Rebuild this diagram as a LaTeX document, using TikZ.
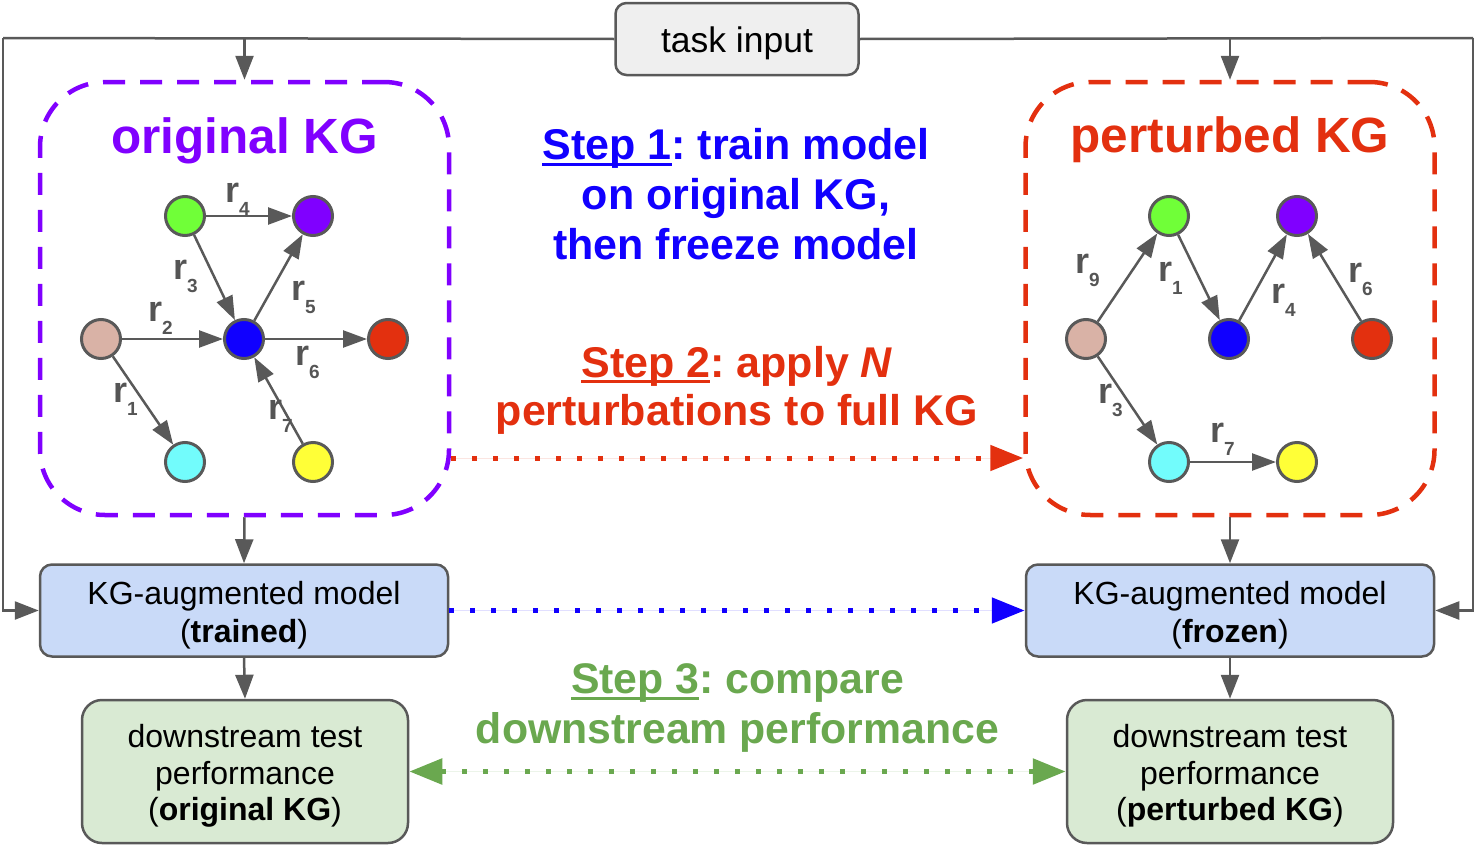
\documentclass[tikz,border=0pt]{standalone}
\usepackage{fontspec}
\setmainfont{Liberation Sans}
\usetikzlibrary{arrows.meta}
\definecolor{gline}{HTML}{595959}
\definecolor{glabel}{HTML}{555555}
\definecolor{kgpurple}{HTML}{8000FF}
\definecolor{kgred}{HTML}{E3300F}
\definecolor{stepblue}{HTML}{1100FF}
\definecolor{stepgreen}{HTML}{6AA84F}
\definecolor{bluefill}{HTML}{C9DAF8}
\definecolor{greenfill}{HTML}{D9EAD3}
\definecolor{taskfill}{HTML}{EFEFEF}
\definecolor{ngreen}{HTML}{70FF38}
\definecolor{npurple}{HTML}{8000FF}
\definecolor{ntan}{HTML}{D9B2A6}
\definecolor{nblue}{HTML}{1000FF}
\definecolor{nred}{HTML}{E3300F}
\definecolor{ncyan}{HTML}{72FCFC}
\definecolor{nyellow}{HTML}{FFFF37}
\frenchspacing
\newcommand\rsub[1]{r\raisebox{-13pt}{\fontsize{19}{19}\selectfont #1}}
\newcommand\stepul[1]{\setbox0\hbox{#1}\rlap{\rule[-6pt]{\wd0}{3pt}}\box0}
\begin{document}
\begin{tikzpicture}[x=1pt,y=-1pt,
  conn/.style={draw=gline, line width=2.5pt, -{Triangle[length=24pt,width=18pt]}},
  gedge/.style={draw=gline, line width=2.5pt, -{Triangle[length=24pt,width=17pt]}},
  kgbox/.style={rectangle, rounded corners=65pt, dash pattern=on 22pt off 15pt, line width=4.5pt, minimum width=409pt, minimum height=433pt},
  kgtitle/.style={anchor=base, inner sep=0pt, font=\fontsize{49.5}{49.5}\selectfont\bfseries},
  ent/.style={circle, draw=gline, line width=3pt, minimum size=39pt, inner sep=0pt},
  rel/.style={text=glabel, font=\fontsize{36}{36}\selectfont\bfseries, anchor=base west, inner sep=0pt},
  model/.style={rectangle, rounded corners=12pt, draw=gline, line width=2.5pt, fill=bluefill, minimum width=408pt, minimum height=92pt},
  perf/.style={rectangle, rounded corners=20pt, draw=gline, line width=2.5pt, fill=greenfill, minimum width=326pt, minimum height=143pt},
  boxtext/.style={align=center, inner sep=0pt, font=\fontsize{32}{37.5}\selectfont},
  steptext/.style={align=center, inner sep=0pt},
  dotarr/.style={line width=5pt, dash pattern=on 5pt off 16pt, -{Triangle[length=33pt,width=25pt]}}
]
\useasboundingbox (0,0) rectangle (1476,846);

% task input
\node[rectangle, rounded corners=11pt, draw=gline, line width=2.5pt, fill=taskfill, minimum width=243pt, minimum height=72pt, text height=33pt, text depth=7pt, font=\fontsize{35.5}{35.5}\selectfont] (ti) at (737,39) {task input};

% KG boxes
\node[kgbox, draw=kgpurple] (kgL) at (244.5,298.5) {};
\node[kgbox, draw=kgred] (kgR) at (1230,298.5) {};
\node[kgtitle, text=kgpurple] (tL) at (244.5,153) {original KG};
\node[kgtitle, text=kgred] (tR) at (1230,152) {perturbed KG};

% model boxes
\node[model] (mL) at (244,610.5) {};
\node[model] (mR) at (1230,610.5) {};
\node[boxtext] (mLt) at (244,615) {KG-augmented model\\(\textbf{trained})};
\node[boxtext] (mRt) at (1230,615) {KG-augmented model\\(\textbf{frozen})};

% performance boxes
\node[perf] (pL) at (245,771.5) {};
\node[perf] (pR) at (1230,771.5) {};
\node[boxtext, font=\fontsize{32}{36.5}\selectfont] (pLt) at (245,776) {downstream test\\performance\\(\textbf{original KG})};
\node[boxtext, font=\fontsize{32}{36.5}\selectfont] (pRt) at (1230,776) {downstream test\\performance\\(\textbf{perturbed KG})};

% top connectors
\coordinate (cl) at (3,38);
\coordinate (cr) at (1473,38);
\draw[draw=gline, line width=2.5pt] (ti.west) -- (cl);
\draw[draw=gline, line width=2.5pt] (ti.east) -- (cr);
\draw[conn] (cl) |- (mL.west);
\draw[conn] (cr) |- (mR.east);
\draw[conn] (kgL.north |- cl) -- (kgL.north);
\draw[conn] (kgR.north |- cr) -- (kgR.north);
\draw[conn] (kgL.south) -- (mL.north);
\draw[conn] (kgR.south) -- (mR.north);
\draw[conn] (mL.south) -- (pL.north);
\draw[conn] (mR.south) -- (pR.north);

% dotted arrows
\draw[dotarr, draw=kgred, fill=kgred] ([yshift=-159.5pt]kgL.east) -- ([yshift=-159.5pt]kgR.west);
\draw[dotarr, draw=stepblue, fill=stepblue] (mL.east) -- (mR.west);
\draw[line width=5.5pt, dash pattern=on 5.5pt off 15.5pt, {Triangle[length=33pt,width=25pt]}-{Triangle[length=33pt,width=25pt]}, draw=stepgreen, fill=stepgreen] (pL.east) -- (pR.west);

% step texts
\node[steptext, text=stepblue, font=\fontsize{43}{50}\selectfont\bfseries] (s1) at (736,194.5) {\stepul{Step 1}: train model\\on original KG,\\then freeze model};
\node[steptext, text=kgred, font=\fontsize{43}{48}\selectfont\bfseries] (s2) at (737,390) {\stepul{Step 2}: apply \textit{N}\\perturbations to full KG};
\node[steptext, text=stepgreen, font=\fontsize{42.8}{50}\selectfont\bfseries] (s3) at (737.5,708) {\stepul{Step 3}: compare\\downstream performance};

% left graph
\node[ent, fill=ngreen] (a1) at (185,216) {};
\node[ent, fill=npurple] (a2) at (313,216) {};
\node[ent, fill=ntan] (a3) at (101,339) {};
\node[ent, fill=nblue] (a4) at (244,339) {};
\node[ent, fill=nred] (a5) at (388,339) {};
\node[ent, fill=ncyan] (a6) at (185,462) {};
\node[ent, fill=nyellow] (a7) at (313,462) {};
\draw[gedge] (a1) -- (a2);
\draw[gedge] (a1) -- (a4);
\draw[gedge] (a3) -- (a4);
\draw[gedge] (a4) -- (a2);
\draw[gedge] (a4) -- (a5);
\draw[gedge] (a7) -- (a4);
\draw[gedge] (a3) -- (a6);
\node[rel] (la4) at (225,202) {\rsub{4}};
\node[rel] (la3) at (173,279) {\rsub{3}};
\node[rel] (la2) at (148,321) {\rsub{2}};
\node[rel] (la5) at (291,300) {\rsub{5}};
\node[rel] (la6) at (295,365) {\rsub{6}};
\node[rel] (la7) at (268,419) {\rsub{7}};
\node[rel] (la1) at (113,402) {\rsub{1}};

% right graph
\node[ent, fill=ngreen] (b1) at (1169,216) {};
\node[ent, fill=npurple] (b2) at (1297,216) {};
\node[ent, fill=ntan] (b3) at (1086,339) {};
\node[ent, fill=nblue] (b4) at (1229,339) {};
\node[ent, fill=nred] (b5) at (1372,339) {};
\node[ent, fill=ncyan] (b6) at (1169,462) {};
\node[ent, fill=nyellow] (b7) at (1297,462) {};
\draw[gedge] (b3) -- (b1);
\draw[gedge] (b1) -- (b4);
\draw[gedge] (b4) -- (b2);
\draw[gedge] (b5) -- (b2);
\draw[gedge] (b3) -- (b6);
\draw[gedge] (b6) -- (b7);
\node[rel] (lb9) at (1075,273) {\rsub{9}};
\node[rel] (lb1) at (1158,281) {\rsub{1}};
\node[rel] (lb4) at (1271,303) {\rsub{4}};
\node[rel] (lb6) at (1348,282) {\rsub{6}};
\node[rel] (lb3) at (1098,403) {\rsub{3}};
\node[rel] (lb7) at (1210,442) {\rsub{7}};
\end{tikzpicture}
\end{document}
